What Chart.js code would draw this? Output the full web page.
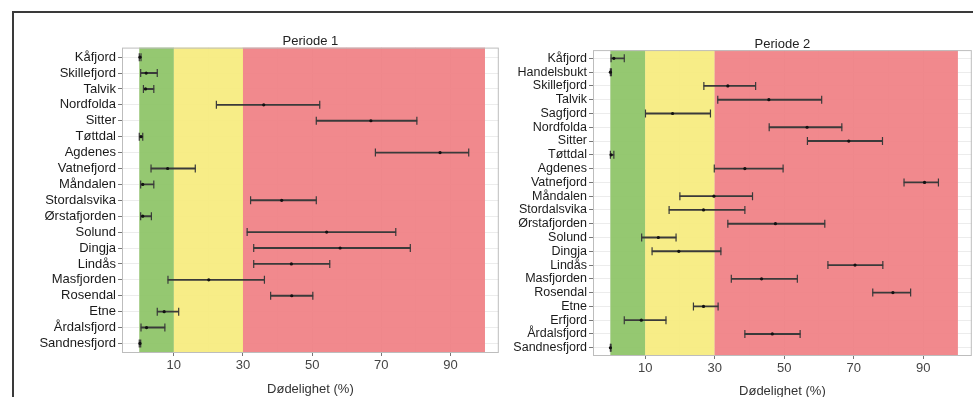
<!DOCTYPE html>
<html lang="no">
<head>
<meta charset="UTF-8">
<title>Dødelighet per periode</title>
<script src="https://cdn.jsdelivr.net/npm/chart.js@4.4.1/dist/chart.umd.min.js"></script>
<style>
  html, body { margin: 0; padding: 0; background: #fff; }
  body { width: 973px; height: 397px; position: relative; overflow: hidden; }
  .frame { position: absolute; left: 12px; top: 11px; width: 1000px; height: 420px;
           border-left: 2px solid #3a3a3a; border-top: 2px solid #3a3a3a; }
  .panel { position: absolute; top: 20px; height: 377px; }
  #p1 { left: 20px; width: 484px; }
  #p2 { left: 500px; width: 477px; }
</style>
</head>
<body>
<div class="frame"></div>
<div class="panel" id="p1"><canvas id="chart1"></canvas></div>
<div class="panel" id="p2"><canvas id="chart2"></canvas></div>

<script>
// Periode 1
const sites1 = ["Kåfjord", "Skillefjord", "Talvik", "Nordfolda", "Sitter", "Tøttdal", "Agdenes",
  "Vatnefjord", "Måndalen", "Stordalsvika", "Ørstafjorden", "Solund", "Dingja", "Lindås",
  "Masfjorden", "Rosendal", "Etne", "Årdalsfjord", "Sandnesfjord"];
const mean1 = [0.2, 2, 1.8, 36, 67, 0.5, 87, 8.2, 1, 41.2, 1, 54.2, 58.1, 44, 20.1, 44.1, 7.2, 2.1, 0.2];
const low1  = [0, 0.4, 1.2, 22.3, 51.2, 0, 68.3, 3.4, 0.4, 32.2, 0.4, 31.2, 33.1, 33.1, 8.3, 38, 5.2, 0.5, 0];
const high1 = [0.5, 5.2, 4.2, 52.2, 80.3, 1, 95.3, 16.2, 4.2, 51.2, 3.5, 74.2, 78.4, 55.1, 36.2, 50.2, 11.4, 7.4, 0.4];

// Periode 2
const sites2 = ["Kåfjord", "Handelsbukt", "Skillefjord", "Talvik", "Sagfjord", "Nordfolda", "Sitter",
  "Tøttdal", "Agdenes", "Vatnefjord", "Måndalen", "Stordalsvika", "Ørstafjorden", "Solund", "Dingja",
  "Lindås", "Masfjorden", "Rosendal", "Etne", "Erfjord", "Årdalsfjord", "Sandnesfjord"];
const mean2 = [1, 0, 33.8, 45.6, 17.9, 56.6, 68.6, 0.2, 38.7, 90.4, 29.8, 26.8, 47.5, 13.8, 19.7,
  70.4, 43.5, 81.3, 26.8, 8.9, 46.6, 0];
const low2  = [0.2, 0, 26.9, 30.9, 10.1, 45.7, 56.7, 0, 29.9, 84.5, 20, 16.9, 33.8, 9, 12,
  62.6, 34.8, 75.5, 23.9, 4, 38.7, 0];
const high2 = [4, 0.3, 41.8, 60.8, 28.8, 66.6, 78.3, 1, 49.7, 94.4, 40.9, 38.7, 61.7, 18.9, 31.8,
  78.4, 53.8, 86.4, 31, 16, 54.6, 0.2];

const xTicks = [10, 30, 50, 70, 90];
const xGrid = [0, 10, 20, 30, 40, 50, 60, 70, 80, 90, 100];
const bandEdges = [0, 10, 30, 100];
const bandColors = ["#8dc466", "#f6ec7e", "#f08084"];

Chart.defaults.font.family = "'Liberation Sans', Arial, sans-serif";
Chart.defaults.animation = false;

const bandPlugin = {
  id: "bands",
  beforeDatasetsDraw(chart) {
    const { ctx, chartArea: a, scales: { x } } = chart;
    ctx.save();
    ctx.globalAlpha = 0.93;
    for (let i = 0; i < bandColors.length; i++) {
      const x0 = x.getPixelForValue(bandEdges[i]);
      const x1 = x.getPixelForValue(bandEdges[i + 1]);
      ctx.fillStyle = bandColors[i];
      ctx.fillRect(x0, a.top, x1 - x0, a.bottom - a.top);
    }
    ctx.restore();
  },
  afterDatasetsDraw(chart) {
    const { ctx, chartArea: a } = chart;
    ctx.save();
    ctx.strokeStyle = "#bdbdbd";
    ctx.lineWidth = 1;
    ctx.strokeRect(a.left + 0.5, a.top + 0.5, a.right - a.left - 1, a.bottom - a.top - 1);
    ctx.restore();
  }
};

function makeChart(id, title, sites, mean, low, high, cfg) {
  const n = sites.length;
  const caps = [];
  sites.forEach((s, i) => { caps.push({ x: low[i], y: i }); caps.push({ x: high[i], y: i }); });

  return new Chart(id, {
    type: "bar",
    data: {
      datasets: [
        {
          type: "bar",
          indexAxis: "y",
          data: sites.map((s, i) => ({ y: i, x: [low[i], high[i]] })),
          backgroundColor: "#3a3a3a",
          barThickness: 1.2,
          grouped: false,
          order: 3
        },
        {
          type: "scatter",
          data: caps,
          pointStyle: "line",
          rotation: 90,
          radius: 4,
          borderWidth: 1.2,
          borderColor: "#3a3a3a",
          order: 2
        },
        {
          type: "scatter",
          data: sites.map((s, i) => ({ x: mean[i], y: i })),
          pointStyle: "circle",
          radius: 1.6,
          backgroundColor: "#111",
          borderWidth: 0,
          order: 1
        }
      ]
    },
    options: {
      responsive: true,
      maintainAspectRatio: false,
      layout: { padding: { left: 0, right: 2, top: 0, bottom: 0 } },
      plugins: {
        legend: { display: false },
        tooltip: { enabled: false },
        title: {
          display: true,
          text: title,
          fullSize: false,
          color: "#222",
          font: { size: 13, weight: "normal" },
          padding: { top: cfg.titleTop + 2, bottom: -2 }
        }
      },
      scales: {
        x: {
          type: "linear",
          offset: false,
          min: -5,
          max: 104,
          afterBuildTicks: s => { s.ticks = xGrid.map(v => ({ value: v })); },
          afterFit: s => { s.height = cfg.xHeight; },
          ticks: {
            autoSkip: false,
            maxRotation: 0,
            padding: 2,
            color: "#444",
            font: { size: 13 },
            callback: v => (xTicks.includes(v) ? v : "")
          },
          grid: {
            offset: false,
            color: c => (c.tick && xTicks.includes(c.tick.value) ? "#e4e4e4" : "#f1f1f1"),
            tickColor: c => (c.tick && xTicks.includes(c.tick.value) ? "#777" : "rgba(0,0,0,0)"),
            tickLength: 3
          },
          border: { display: false },
          title: {
            display: true,
            text: "Dødelighet (%)",
            color: "#333",
            font: { size: 13 },
            padding: { top: 0, bottom: cfg.xTitlePad }
          }
        },
        y: {
          type: "linear",
          offset: false,
          reverse: true,
          min: -0.6,
          max: n - 0.4,
          afterBuildTicks: s => { s.ticks = sites.map((_, i) => ({ value: i })); },
          afterFit: s => { s.width = cfg.yWidth; },
          ticks: {
            autoSkip: false,
            padding: 2,
            color: "#1a1a1a",
            font: { size: cfg.labelSize },
            callback: v => sites[v]
          },
          grid: { offset: false, color: "#ececec", tickColor: "#777", tickLength: 4 },
          border: { display: false }
        }
      }
    },
    plugins: [bandPlugin]
  });
}

makeChart("chart1", "Periode 1", sites1, mean1, low1, high1,
  { yWidth: 102, xHeight: 44, titleTop: 12, xTitlePad: 0, labelSize: 13 });
makeChart("chart2", "Periode 2", sites2, mean2, low2, high2,
  { yWidth: 93, xHeight: 41, titleTop: 14.5, xTitlePad: -2, labelSize: 12.5 });
</script>
</body>
</html>
